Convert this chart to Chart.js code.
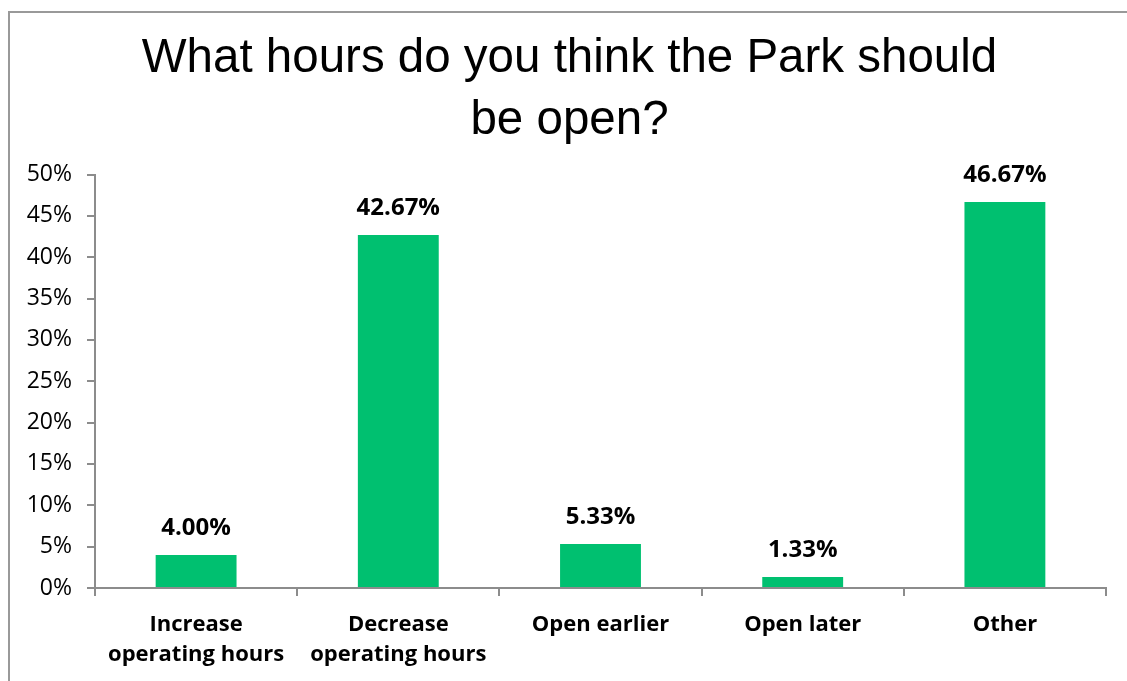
<!DOCTYPE html>
<html lang="en">
<head>
    <meta charset="UTF-8">
    <title>Park hours</title>
    <style>
        body { margin: 0; background: #fff; }
        .frame {
            position: absolute; left: 8px; top: 11px;
            width: 2000px; height: 2000px;
            border-top: 2px solid #999; border-left: 2px solid #999;
        }
        #wrap { position: absolute; left: 0; top: 0; width: 1127px; height: 681px; overflow: hidden; }
        canvas { position: absolute; left: 0; top: 0; }
    </style>
    <script src="https://cdn.jsdelivr.net/npm/chart.js"></script>
</head>
<body>
<div id="wrap">
    <div class="frame"></div>
    <canvas id="hoursChart" width="1127" height="681"></canvas>
</div>
<script>
    const categories = [
        ['Increase', 'operating hours'],
        ['Decrease', 'operating hours'],
        'Open earlier',
        'Open later',
        'Other'
    ];
    const percents = [4.00, 42.67, 5.33, 1.33, 46.67];
    const yTicks = [0, 5, 10, 15, 20, 25, 30, 35, 40, 45, 50];

    const axisGrey = '#8c8c8c';

    // draws the value above each bar
    const valueLabels = {
        id: 'valueLabels',
        afterDatasetsDraw(chart) {
            const ctx = chart.ctx;
            const meta = chart.getDatasetMeta(0);
            ctx.save();
            ctx.font = 'bold 24px "Open Sans"';
            ctx.fillStyle = '#000';
            ctx.textAlign = 'center';
            ctx.textBaseline = 'bottom';
            meta.data.forEach((bar, i) => {
                ctx.fillText(percents[i].toFixed(2) + '%', bar.x, bar.y - 15);
            });
            ctx.restore();
        }
    };

    // the title in the original sits a little right of the canvas centre
    const titleShift = {
        id: 'titleShift',
        afterLayout(chart) {
            chart.titleBlock.left = 33;
        }
    };

    new Chart(document.getElementById('hoursChart'), {
        type: 'bar',
        data: {
            labels: categories,
            datasets: [{
                data: percents,
                backgroundColor: '#00c070',
                barPercentage: 0.4,
                categoryPercentage: 1
            }]
        },
        options: {
            responsive: false,
            animation: false,
            layout: { padding: { left: 0, right: 21, top: 0, bottom: 0 } },
            plugins: {
                legend: { display: false },
                tooltip: { enabled: false },
                title: {
                    display: true,
                    text: ['What hours do you think the Park should', 'be open?'],
                    color: '#000',
                    font: { family: '"Liberation Sans", Arial', size: 47.5, weight: 'normal', lineHeight: 1.3 },
                    padding: { top: 28, bottom: 23 }
                }
            },
            scales: {
                x: {
                    afterFit(scale) { scale.height = 93; },
                    grid: { drawOnChartArea: false, tickLength: 8, color: axisGrey, lineWidth: 2 },
                    border: { color: axisGrey, width: 2 },
                    ticks: {
                        color: '#000',
                        padding: 13,
                        font: { family: '"Open Sans"', size: 22, weight: 'bold', lineHeight: 1.4 }
                    }
                },
                y: {
                    min: 0,
                    max: 50,
                    afterFit(scale) { scale.width = 95; },
                    afterBuildTicks(scale) { scale.ticks = yTicks.map(v => ({ value: v })); },
                    grid: { drawOnChartArea: false, tickLength: 8, color: axisGrey, lineWidth: 2 },
                    border: { color: axisGrey, width: 2 },
                    ticks: {
                        color: '#000',
                        padding: 15,
                        font: { family: '"Open Sans"', size: 23 },
                        callback: v => v + '%'
                    }
                }
            }
        },
        plugins: [valueLabels, titleShift]
    });
</script>
</body>
</html>
